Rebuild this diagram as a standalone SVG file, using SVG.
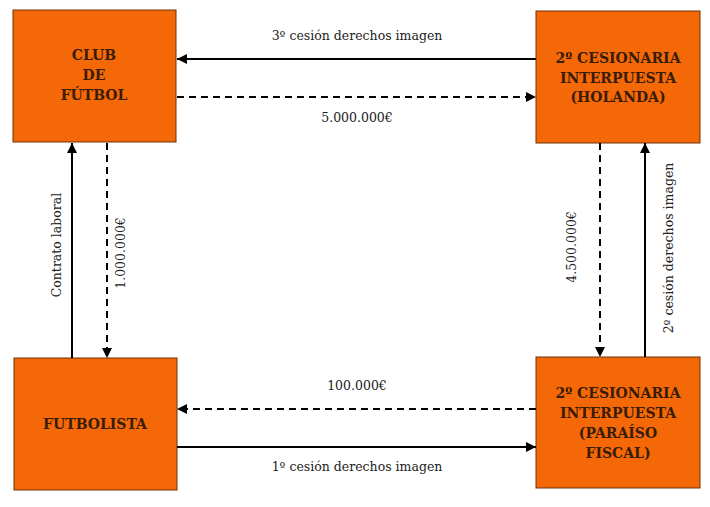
<svg xmlns="http://www.w3.org/2000/svg" width="710" height="507" viewBox="0 0 710 507">
<style>
.box{fill:#f46807;stroke:#6b3208;stroke-width:1}
.bt{font-family:'DejaVu Serif','Liberation Serif',serif;font-weight:bold;font-size:14px;fill:#3a1c05;text-anchor:middle}
.lb{font-family:'DejaVu Serif','Liberation Serif',serif;font-size:12.5px;fill:#222;text-anchor:middle}
.s{stroke:#000;stroke-width:2;fill:none}
.d{stroke:#000;stroke-width:2;fill:none;stroke-dasharray:7,5}
</style>
<defs>
<marker id="ah" viewBox="0 0 10 10" refX="10" refY="5" markerWidth="10" markerHeight="10" markerUnits="userSpaceOnUse" orient="auto">
<path d="M0,0 L10,5 L0,10 z" fill="#000"/>
</marker>
</defs>
<g id="club">
<rect class="box" x="13" y="10" width="163" height="132"/>
<text class="bt" x="94" y="60">CLUB</text>
<text class="bt" x="94" y="80">DE</text>
<text class="bt" x="94" y="100">FÚTBOL</text>
</g>
<g id="holanda">
<rect class="box" x="536" y="11" width="164" height="132"/>
<text class="bt" x="618" y="63">2º CESIONARIA</text>
<text class="bt" x="618" y="83">INTERPUESTA</text>
<text class="bt" x="618" y="102">(HOLANDA)</text>
</g>
<g id="futbolista">
<rect class="box" x="14" y="358" width="163" height="132"/>
<text class="bt" x="95" y="429">FUTBOLISTA</text>
</g>
<g id="paraiso">
<rect class="box" x="536" y="357" width="164" height="131"/>
<text class="bt" x="618" y="398">2º CESIONARIA</text>
<text class="bt" x="618" y="418">INTERPUESTA</text>
<text class="bt" x="618" y="438">(PARAÍSO</text>
<text class="bt" x="618" y="458">FISCAL)</text>
</g>
<g id="connectors">
<line class="s" x1="536" y1="59" x2="177" y2="59" marker-end="url(#ah)"/>
<line class="d" x1="177" y1="97" x2="536" y2="97" marker-end="url(#ah)"/>
<line class="s" x1="72" y1="358" x2="72" y2="143" marker-end="url(#ah)"/>
<line class="d" x1="107" y1="143" x2="107" y2="358" marker-end="url(#ah)"/>
<line class="d" x1="600" y1="143" x2="600" y2="357" marker-end="url(#ah)"/>
<line class="s" x1="645" y1="357" x2="645" y2="143" marker-end="url(#ah)"/>
<line class="d" x1="536" y1="409" x2="177" y2="409" marker-end="url(#ah)"/>
<line class="s" x1="177" y1="447" x2="536" y2="447" marker-end="url(#ah)"/>
<text class="lb" x="357" y="40">3º cesión derechos imagen</text>
<text class="lb" x="357" y="122">5.000.000€</text>
<text class="lb" x="357" y="390">100.000€</text>
<text class="lb" x="357" y="471">1º cesión derechos imagen</text>
<text class="lb" transform="translate(61,245) rotate(-90)">Contrato laboral</text>
<text class="lb" transform="translate(125,253) rotate(-90)">1.000.000€</text>
<text class="lb" transform="translate(576,247) rotate(-90)">4.500.000€</text>
<text class="lb" transform="translate(673,248) rotate(-90)">2º cesión derechos imagen</text>
</g>
</svg>
